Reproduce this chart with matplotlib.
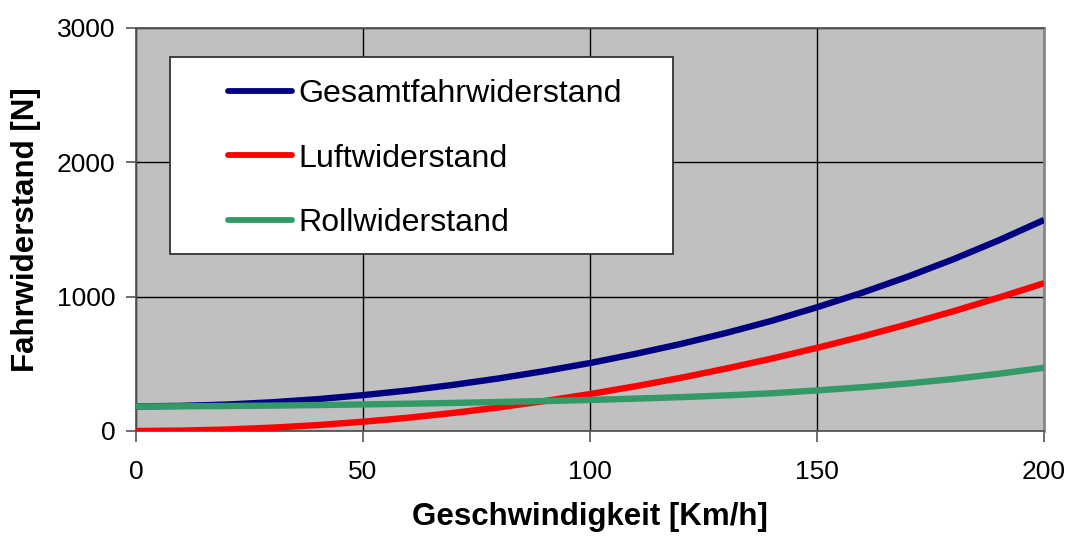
import matplotlib
matplotlib.use("Agg")
import matplotlib.pyplot as plt
from matplotlib.patches import Rectangle

plt.rcParams['font.family'] = ['Liberation Sans', 'DejaVu Sans']

speed = [0, 10, 20, 30, 40, 50, 60, 70, 80, 90, 100, 110, 120, 130, 140, 150, 160, 170, 180, 190, 200]
luft = [0, 3, 11, 25, 44, 69, 99, 135, 176, 223, 275, 333, 396, 465, 539, 619, 704, 795, 891, 993, 1100]
roll = [183, 184, 186, 189, 193, 198, 203, 209, 216, 223, 231, 241, 252, 265, 281, 302, 326, 354, 387, 426, 471]
gesamt = [183, 187, 197, 214, 237, 267, 302, 344, 392, 446, 506, 574, 648, 730, 820, 921, 1030, 1149, 1278, 1419, 1571]

labels = ["Gesamtfahrwiderstand", "Luftwiderstand", "Rollwiderstand"]
colors = ["#000080", "#FF0000", "#339966"]
xticks = [0, 50, 100, 150, 200]
yticks = [0, 1000, 2000, 3000]

W, H = 1071, 536
fig = plt.figure(figsize=(W / 100, H / 100), dpi=100)
ax = fig.add_axes([136 / W, 1 - 431 / H, (1044 - 136) / W, (431 - 28) / H])
ax.set_facecolor("#C0C0C0")

lw = 4.6
lines = []
for series, lab, col in zip([gesamt, luft, roll], labels, colors):
    ln, = ax.plot(speed, series, color=col, lw=lw, label=lab, solid_capstyle='butt', zorder=3)
    lines.append(ln)

ax.set_xlim(0, 200)
ax.set_ylim(0, 3000)
ax.set_xticks(xticks)
ax.set_yticks(yticks)
ax.grid(True, color='black', lw=1.0, zorder=1)
ax.set_axisbelow(True)

ax.tick_params(axis='both', labelsize=19, color='#555555', direction='out')
ax.tick_params(axis='x', length=8, width=1.2, pad=13)
ax.tick_params(axis='y', length=7, width=1.2, pad=8)

for side in ['left', 'bottom', 'top']:
    ax.spines[side].set_color('#555555')
    ax.spines[side].set_linewidth(1.3)
ax.spines['right'].set_color('#888888')
ax.spines['right'].set_linewidth(2.0)

ax.set_xlabel("Geschwindigkeit [Km/h]", fontsize=22.5, fontweight='bold', labelpad=13)
ax.set_ylabel("Fahrwiderstand [N]", fontsize=22.5, fontweight='bold', labelpad=11)

# legend frame
x0 = (170 - 136) / 908
x1 = (673 - 136) / 908
yt = (431 - 57) / 403
yb = (431 - 254) / 403
rect = Rectangle((x0, yb), x1 - x0, yt - yb, transform=ax.transAxes,
                 facecolor='white', edgecolor='#333333', lw=1.3, zorder=4)
ax.add_patch(rect)

leg = ax.legend(handles=lines, loc='upper left', frameon=False,
                bbox_to_anchor=((228 - 136) / 908, (431 - 79) / 403),
                borderaxespad=0, borderpad=0, fontsize=23.1,
                handlelength=1.98, handletextpad=0.2, labelspacing=1.08)
leg.set_zorder(5)
for h in leg.legend_handles:
    h.set_linewidth(4.2)
    h.set_solid_capstyle('round')

fig.savefig("out.png", dpi=100, facecolor='white')
